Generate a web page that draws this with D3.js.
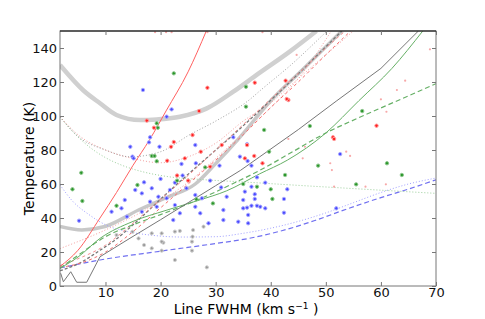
<!DOCTYPE html>
<html>
<head>
<meta charset="utf-8">
<script src="https://cdn.jsdelivr.net/npm/d3@7"></script>
<style>
  body { margin: 0; background: #fff; }
  text { font-family: "DejaVu Sans", sans-serif; }
</style>
</head>
<body>
<script>
var outerWidth = 485, outerHeight = 319;
var margin = { top: 31, right: 49, bottom: 33, left: 60 };
var width = outerWidth - margin.left - margin.right,
  height = outerHeight - margin.top - margin.bottom;

var xTicks = [10, 20, 30, 40, 50, 60, 70];
var yTicks = [0, 20, 40, 60, 80, 100, 120, 140];

// model curves [fwhm, T]
var thickUpper = [[1.74,130],[6,115],[9,107.5],[12,100.6],[16.3,97.6],[19.3,98],[23.5,99.6],[28.4,104.5],[33.2,114.3],[37.5,124.3],[43.5,138],[48.3,150]];
var thickLower = [[1.74,35],[5.7,33],[9.9,35],[16,44.7],[20.8,51.6],[26.3,60],[30,72],[34,86],[40,109],[46,128],[52.9,150]];
var redSolid = [[1.74,11.5],[5,21],[9,40],[12,55],[15,71],[18,86],[21,103],[25,126],[28.3,150]];
var graySolid = [[1.86,7.5],[2.35,2.5],[3.69,8.4],[4.77,2.2],[6.59,2.2],[9,17.2],[14.45,28.1],[20,39],[25,49],[30,59],[34.5,68],[38,76],[45,92],[52,109],[60,128],[66.8,150]];
var greenSolid = [[1.74,10.5],[5,17],[9,28],[15,38],[21,44.5],[27,50.5],[32,56],[38,66],[43,74],[50,90],[56,109],[62,128],[67.6,150]];
var greenDashed = [[1.74,10.5],[5,18],[10,29],[15,36],[20,42],[27,51],[33,60],[38,68],[44,79],[50,90],[56,99],[63,109],[70,119]];
var grayDashed = [[1.74,9],[5,13],[9,21],[11.7,27],[15,36],[20.8,53.5],[27.2,72],[33.2,89],[39.9,109],[46,128],[52.9,150]];
var redDashed1 = [[1.74,11],[5,13],[10,20],[15,32],[20,46],[25,60],[30,74],[35,89],[40,105],[45,120],[50,136],[54.5,150]];
var redDashed2 = [[1.74,12],[5,16],[10,24],[15,37],[20,51],[25,65],[30,80],[35,95],[40,110],[45,125],[50,140],[53.5,150]];
var pinkDotted = [[1.74,22],[10,33],[20,50],[25,61],[30,75],[35,90],[40,105],[45,122],[51,150]];
var redDotted = [[1.74,99.5],[5,89],[10,80],[15,75],[20,72.5],[25,76],[30,84],[35,97],[39.9,107.5],[45,122],[50,136],[55,150]];
var grayDotted = [[1.74,99.5],[5,88],[10,80],[14.5,76],[20,79],[25.3,89],[30,97],[36.3,110],[38.1,115],[44,131],[50.2,150]];
var greenDotted = [[1.74,99.5],[4,91],[7,82],[10,75.5],[13,71],[17,67],[21,64.5],[28,62.5],[35,61.2],[45,59.2],[55,57.3],[70,54.5]];
var blueDotted = [[1.74,59.5],[4,50],[7,42],[10,36],[14,32],[18,30],[24,28.8],[30,29],[35,31],[40,34],[45,38],[50,43],[55,49],[60,55],[65,60],[70,63.5]];
var blueDashed = [[1.74,10.6],[9,15.3],[20,20.5],[30,25],[36,28],[42,32.5],[48,38.5],[54,45.5],[60,52],[65,57],[70,62.5]];

// observed points [fwhm, T]
var bluePts = [[16.8,115.3],[22,103.9],[21.1,99.6],[18.1,87.5],[17.9,84.5],[14.5,81.9],[19.8,81.9],[26.3,82.9],[14.9,76.1],[15.1,75.1],[23.8,71.8],[26.4,72.2],[30.7,70.8],[33.2,87.5],[34.4,76.1],[35.7,83.4],[52.6,77.6],[35.8,73.5],[36.5,70.8],[37.5,63.9],[39,60.8],[43,56.9],[37.1,54],[37.1,51.2],[42.4,51.2],[35.3,55.5],[35.7,46.1],[36.5,47.2],[37.5,47.2],[35.9,41.8],[39,45.7],[42.4,43.1],[51.9,45.7],[5.2,38.4],[22.6,60.8],[21.7,56.5],[24.7,57.5],[26.3,53.5],[27.5,51.6],[32,52.5],[35,50.6],[26.3,46.6],[27.2,42.8],[28.7,36.9],[31.4,38.8],[31.4,44.7],[35,45.7],[34.1,37.8],[35.9,36.9],[38.1,46.6],[21.1,51.6],[22.6,47.6],[23.5,42.8],[22.3,38.8],[36.5,58.4],[15.4,56.5],[16.6,54.5],[13.5,50.6],[12.9,45.7],[11.1,43.7],[13.9,40.8],[18.4,57.5],[19.6,52.5],[18.1,49.6],[16.6,43.7],[19.3,46.6],[24,65],[29,62],[31,58],[20,63],[17,61]];
var greenPts = [[22.4,125.1],[19.3,95.7],[19.5,93.1],[18.4,76.5],[18.9,76.5],[19.3,73.4],[28.1,69.8],[35.5,117.2],[35.5,105.5],[38.8,91.8],[47.1,94.1],[56.6,102.9],[39.7,79],[48.6,70.8],[61.1,72.2],[42.6,65.3],[63.8,65.3],[35,60],[37.5,58.4],[40,56.9],[55.5,59.8],[40.3,51.2],[5.6,66.6],[4,56.9],[5.8,50],[12,47.2],[15.8,59.4],[29.5,48.6],[26.5,51],[23,62]];
var redPts = [[28.5,116.6],[27,102.9],[17.5,97.3],[18.8,93.1],[21.9,81.9],[22.4,84.7],[25.8,88.8],[27.3,79],[21.2,73.7],[24.4,75.1],[29,70.2],[31.1,82.9],[35.7,82.9],[37.1,119.6],[42.7,120.8],[43.2,109.4],[42.9,110],[59.2,94.3],[51.3,87.5],[51.5,86.5],[37,76.5],[35.3,75.1],[38.5,72.2],[23,65],[25,62]];
var grayPts = [[14.9,31.9],[17,24.1],[18.4,22.2],[20.5,25.5],[18.4,31],[22.6,15.3],[23.5,32.4],[25.7,26.1],[25.8,29],[25.7,20.8],[28.4,11],[27.8,34.9],[20.2,31],[20.2,26.1],[22.6,32],[25.9,32.9],[20.2,20.8],[16,28],[12,30]];
var pinkPts = [[68.9,139.2],[64.4,120.8],[62.9,115.3],[60,109.8],[61,102.5],[54.4,76.5],[53.7,79],[50.8,72.2],[46.2,81.9],[45.8,75.1],[43.2,86.5],[44.7,135.9],[51.1,68.2],[60.9,59.8],[57.2,58.4],[51.5,58.4],[19,149.3],[21,149.3],[22,149.3],[28.5,149.3],[38.5,149.3]];

var x = d3.scaleLinear().domain([1.74, 70]).range([0, width]);
var y = d3.scaleLinear().domain([0, 150]).range([height, 0]);

var svg = d3.select("body").append("svg")
  .attr("width", outerWidth)
  .attr("height", outerHeight);

svg.append("defs").append("clipPath").attr("id", "clip")
  .append("rect").attr("width", width).attr("height", height);

var g = svg.append("g")
  .attr("transform", "translate(" + margin.left + "," + margin.top + ")");

var plot = g.append("g").attr("clip-path", "url(#clip)");

var line = d3.line()
  .x(function (d) { return x(d[0]); })
  .y(function (d) { return y(d[1]); })
  .curve(d3.curveMonotoneX);

var straight = d3.line()
  .x(function (d) { return x(d[0]); })
  .y(function (d) { return y(d[1]); });

function curve(data, color, w, dash, gen) {
  plot.append("path")
    .datum(data)
    .attr("d", gen || line)
    .style("fill", "none")
    .style("stroke", color)
    .style("stroke-width", w)
    .style("stroke-dasharray", dash || null);
}

curve(thickUpper, "#d0d0d0", 4.5);
curve(thickLower, "#c8c8c8", 3.5);
curve(blueDotted, "#a0a0ff", 1, "1,2");
curve(blueDashed, "#7070f0", 1.2, "5,3");
curve(greenDotted, "#9ccf9c", 1, "1,2");
curve(redDotted, "#f4a0a0", 1, "1,2");
curve(grayDotted, "#888", 0.8, "1,2");
curve(pinkDotted, "#f6a0a0", 1, "1,2");
curve(grayDashed, "#777", 1.3, "3,2");
curve(redDashed1, "#f47070", 1, "3,3");
curve(redDashed2, "#f69090", 1, "3,3");
curve(greenDashed, "#66b066", 1.2, "5,3");
curve(greenSolid, "#66b066", 1);
curve(graySolid, "#777", 1, null, straight);
curve(redSolid, "#ff6060", 1);

function dots(data, color, halo, r) {
  plot.selectAll(null)
    .data(data)
    .enter().append("circle")
    .attr("cx", function (d) { return x(d[0]); })
    .attr("cy", function (d) { return y(d[1]); })
    .attr("r", r)
    .style("fill", color)
    .style("stroke", halo)
    .style("stroke-width", 1);
}

dots(grayPts, "#9a9a9a", "#cfcfcf", 1.6);
dots(pinkPts, "#f7a8a8", "none", 1.1);
dots(bluePts, "#4848ff", "#a8a8ff", 1.7);
dots(greenPts, "#2a962a", "#90c890", 1.7);
dots(redPts, "#ff2020", "#ff9a9a", 1.7);

// frame
g.append("rect")
  .attr("width", width).attr("height", height)
  .style("fill", "none").style("stroke", "#777").style("stroke-width", 1);
g.append("line").attr("x1", 0).attr("x2", width).attr("y1", 0).attr("y2", 0)
  .style("stroke", "#000").style("stroke-width", 1.2);

var xAxis = d3.axisBottom(x).tickValues(xTicks).tickSize(-4).tickPadding(2);
var yAxis = d3.axisLeft(y).tickValues(yTicks).tickSize(-4).tickPadding(3);

g.append("g").attr("transform", "translate(0," + height + ")").call(xAxis);
g.append("g").call(yAxis);
g.append("g").call(d3.axisTop(x).tickValues(xTicks).tickSize(-4).tickFormat(""));
g.append("g").attr("transform", "translate(" + width + ",0)")
  .call(d3.axisRight(y).tickValues(yTicks).tickSize(-4).tickFormat(""));

g.selectAll(".domain").remove();
g.selectAll(".tick line").style("stroke", "#777");
g.selectAll(".tick text").style("font-size", "13px").style("fill", "#111")
  .style("font-family", "DejaVu Sans, sans-serif");

var xl = svg.append("text")
  .attr("x", margin.left + width / 2 - 2)
  .attr("y", 314)
  .attr("text-anchor", "middle")
  .style("font-size", "14px");
xl.append("tspan").text("Line FWHM (km s");
xl.append("tspan").attr("dy", -5).style("font-size", "9px").text("\u22121");
xl.append("tspan").attr("dy", 5).text(" )");

svg.append("text")
  .attr("transform", "translate(29," + (margin.top + height / 2) + ") rotate(-90)")
  .attr("text-anchor", "middle")
  .attr("dy", "0.35em")
  .style("font-size", "14px")
  .text("Temperature (K)");
</script>
</body>
</html>
